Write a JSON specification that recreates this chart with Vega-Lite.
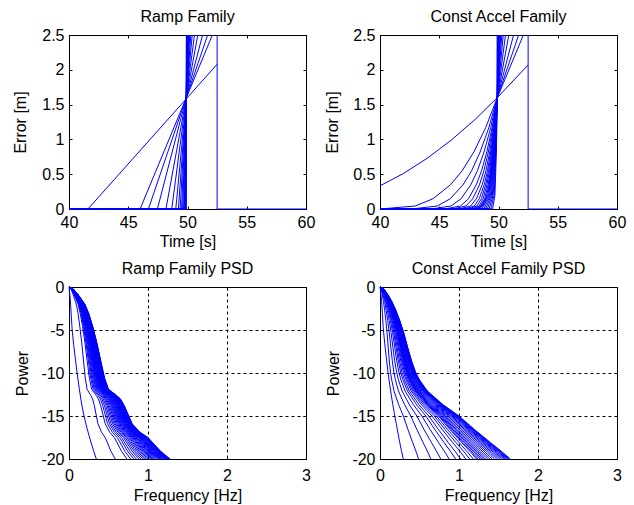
{
"$schema": "https://vega.github.io/schema/vega-lite/v6.json",
"background": "white",
"padding": {"left": 11, "top": 8, "right": 5, "bottom": 0},
"bounds": "flush",
"columns": 2,
"spacing": {"row": 78, "column": 74},
"config": {
  "font": "Liberation Sans",
  "view": {"stroke": "#000", "strokeWidth": 1, "fill": "white"},
  "axis": {"domainColor": "#000", "domainWidth": 1, "tickColor": "#000", "tickSize": -3, "tickWidth": 1, "labelFont": "Liberation Sans", "labelFontSize": 16, "labelColor": "#000", "labelPadding": 8, "labelFlush": false, "labelOverlap": false, "titleFont": "Liberation Sans", "titleFontSize": 16, "titleFontWeight": "normal", "titleColor": "#000", "grid": false},
  "title": {"font": "Liberation Sans", "fontSize": 16, "fontWeight": "normal", "color": "#000", "anchor": "middle", "frame": "group", "offset": 2.5, "baseline": "alphabetic"},
  "line": {"color": "#0000ff", "strokeWidth": 1}
},
"datasets": {
"ramp": [
{"i":1,"x":40,"y":0},{"i":1,"x":41.6,"y":0},{"i":1,"x":52.5,"y":2.08},
{"i":2,"x":40,"y":0},{"i":2,"x":46.0,"y":0},{"i":2,"x":52.1,"y":2.5},
{"i":3,"x":40,"y":0},{"i":3,"x":46.7,"y":0},{"i":3,"x":51.7,"y":2.5},
{"i":4,"x":40,"y":0},{"i":4,"x":47.46,"y":0},{"i":4,"x":51.27,"y":2.5},
{"i":5,"x":40,"y":0},{"i":5,"x":48.18,"y":0},{"i":5,"x":50.87,"y":2.5},
{"i":6,"x":40,"y":0},{"i":6,"x":48.67,"y":0},{"i":6,"x":50.59,"y":2.5},
{"i":7,"x":40,"y":0},{"i":7,"x":49.01,"y":0},{"i":7,"x":50.4,"y":2.5},
{"i":8,"x":40,"y":0},{"i":8,"x":49.23,"y":0},{"i":8,"x":50.28,"y":2.5},
{"i":9,"x":40,"y":0},{"i":9,"x":49.38,"y":0},{"i":9,"x":50.19,"y":2.5},
{"i":10,"x":40,"y":0},{"i":10,"x":49.5,"y":0},{"i":10,"x":50.13,"y":2.5},
{"i":11,"x":40,"y":0},{"i":11,"x":49.59,"y":0},{"i":11,"x":50.07,"y":2.5},
{"i":12,"x":40,"y":0},{"i":12,"x":49.67,"y":0},{"i":12,"x":50.03,"y":2.5},
{"i":13,"x":40,"y":0},{"i":13,"x":49.73,"y":0},{"i":13,"x":49.99,"y":2.5},
{"i":14,"x":40,"y":0},{"i":14,"x":49.78,"y":0},{"i":14,"x":49.97,"y":2.5},
{"i":15,"x":40,"y":0},{"i":15,"x":49.81,"y":0},{"i":15,"x":49.95,"y":2.5},
{"i":16,"x":40,"y":0},{"i":16,"x":49.84,"y":0},{"i":16,"x":49.93,"y":2.5},
{"i":17,"x":40,"y":0},{"i":17,"x":49.86,"y":0},{"i":17,"x":49.92,"y":2.5},
{"i":18,"x":40,"y":0},{"i":18,"x":49.877,"y":0},{"i":18,"x":49.913,"y":2.5},
{"i":19,"x":40,"y":0},{"i":19,"x":49.889,"y":0},{"i":19,"x":49.906,"y":2.5},
{"i":20,"x":52.5,"y":2.5},{"i":20,"x":52.5,"y":0},{"i":20,"x":60,"y":0}
],
"accel": [
{"i":1,"x":40,"y":0.333},{"i":1,"x":42,"y":0.512},{"i":1,"x":44,"y":0.731},{"i":1,"x":46,"y":0.988},{"i":1,"x":48,"y":1.283},{"i":1,"x":49.9,"y":1.6},{"i":1,"x":52.5,"y":2.07},
{"i":2,"x":40,"y":0},{"i":2,"x":42.97,"y":0.043},{"i":2,"x":44.46,"y":0.146},{"i":2,"x":45.94,"y":0.346},{"i":2,"x":46.93,"y":0.549},{"i":2,"x":47.92,"y":0.819},{"i":2,"x":48.91,"y":1.166},{"i":2,"x":49.9,"y":1.6},{"i":2,"x":52.1,"y":2.5},
{"i":3,"x":40,"y":0},{"i":3,"x":42.66,"y":0},{"i":3,"x":44.83,"y":0.043},{"i":3,"x":45.92,"y":0.146},{"i":3,"x":47.0,"y":0.346},{"i":3,"x":47.73,"y":0.549},{"i":3,"x":48.45,"y":0.819},{"i":3,"x":49.18,"y":1.166},{"i":3,"x":49.9,"y":1.6},{"i":3,"x":51.7,"y":2.5},
{"i":4,"x":40,"y":0},{"i":4,"x":44.31,"y":0},{"i":4,"x":45.99,"y":0.043},{"i":4,"x":46.83,"y":0.146},{"i":4,"x":47.66,"y":0.346},{"i":4,"x":48.22,"y":0.549},{"i":4,"x":48.78,"y":0.819},{"i":4,"x":49.34,"y":1.166},{"i":4,"x":49.9,"y":1.6},{"i":4,"x":51.27,"y":2.5},
{"i":5,"x":40,"y":0},{"i":5,"x":45.46,"y":0},{"i":5,"x":46.79,"y":0.043},{"i":5,"x":47.46,"y":0.146},{"i":5,"x":48.12,"y":0.346},{"i":5,"x":48.57,"y":0.549},{"i":5,"x":49.01,"y":0.819},{"i":5,"x":49.46,"y":1.166},{"i":5,"x":49.9,"y":1.6},{"i":5,"x":50.87,"y":2.5},
{"i":6,"x":40,"y":0},{"i":6,"x":46.12,"y":0},{"i":6,"x":47.25,"y":0.043},{"i":6,"x":47.82,"y":0.146},{"i":6,"x":48.39,"y":0.346},{"i":6,"x":48.77,"y":0.549},{"i":6,"x":49.14,"y":0.819},{"i":6,"x":49.52,"y":1.166},{"i":6,"x":49.9,"y":1.6},{"i":6,"x":50.59,"y":2.5},
{"i":7,"x":40,"y":0},{"i":7,"x":46.69,"y":0},{"i":7,"x":47.65,"y":0.043},{"i":7,"x":48.13,"y":0.146},{"i":7,"x":48.62,"y":0.346},{"i":7,"x":48.94,"y":0.549},{"i":7,"x":49.26,"y":0.819},{"i":7,"x":49.58,"y":1.166},{"i":7,"x":49.9,"y":1.6},{"i":7,"x":50.4,"y":2.5},
{"i":8,"x":40,"y":0},{"i":8,"x":47.12,"y":0},{"i":8,"x":47.95,"y":0.043},{"i":8,"x":48.37,"y":0.146},{"i":8,"x":48.79,"y":0.346},{"i":8,"x":49.07,"y":0.549},{"i":8,"x":49.34,"y":0.819},{"i":8,"x":49.62,"y":1.166},{"i":8,"x":49.9,"y":1.6},{"i":8,"x":50.28,"y":2.5},
{"i":9,"x":40,"y":0},{"i":9,"x":47.44,"y":0},{"i":9,"x":48.18,"y":0.043},{"i":9,"x":48.55,"y":0.146},{"i":9,"x":48.92,"y":0.346},{"i":9,"x":49.16,"y":0.549},{"i":9,"x":49.41,"y":0.819},{"i":9,"x":49.65,"y":1.166},{"i":9,"x":49.9,"y":1.6},{"i":9,"x":50.19,"y":2.5},
{"i":10,"x":40,"y":0},{"i":10,"x":47.71,"y":0},{"i":10,"x":48.37,"y":0.043},{"i":10,"x":48.7,"y":0.146},{"i":10,"x":49.02,"y":0.346},{"i":10,"x":49.24,"y":0.549},{"i":10,"x":49.46,"y":0.819},{"i":10,"x":49.68,"y":1.166},{"i":10,"x":49.9,"y":1.6},{"i":10,"x":50.13,"y":2.5},
{"i":11,"x":40,"y":0},{"i":11,"x":47.95,"y":0},{"i":11,"x":48.54,"y":0.043},{"i":11,"x":48.83,"y":0.146},{"i":11,"x":49.12,"y":0.346},{"i":11,"x":49.32,"y":0.549},{"i":11,"x":49.51,"y":0.819},{"i":11,"x":49.71,"y":1.166},{"i":11,"x":49.9,"y":1.6},{"i":11,"x":50.07,"y":2.5},
{"i":12,"x":40,"y":0},{"i":12,"x":48.14,"y":0},{"i":12,"x":48.67,"y":0.043},{"i":12,"x":48.93,"y":0.146},{"i":12,"x":49.2,"y":0.346},{"i":12,"x":49.37,"y":0.549},{"i":12,"x":49.55,"y":0.819},{"i":12,"x":49.72,"y":1.166},{"i":12,"x":49.9,"y":1.6},{"i":12,"x":50.03,"y":2.5},
{"i":13,"x":40,"y":0},{"i":13,"x":48.3,"y":0},{"i":13,"x":49.1,"y":0.2},{"i":13,"x":49.58,"y":0.819},{"i":13,"x":49.9,"y":1.6},{"i":13,"x":49.99,"y":2.5},
{"i":14,"x":40,"y":0},{"i":14,"x":48.45,"y":0},{"i":14,"x":49.18,"y":0.2},{"i":14,"x":49.61,"y":0.819},{"i":14,"x":49.9,"y":1.6},{"i":14,"x":49.97,"y":2.5},
{"i":15,"x":40,"y":0},{"i":15,"x":48.6,"y":0},{"i":15,"x":49.25,"y":0.2},{"i":15,"x":49.64,"y":0.819},{"i":15,"x":49.9,"y":1.6},{"i":15,"x":49.95,"y":2.5},
{"i":16,"x":40,"y":0},{"i":16,"x":48.75,"y":0},{"i":16,"x":49.33,"y":0.2},{"i":16,"x":49.67,"y":0.819},{"i":16,"x":49.9,"y":1.6},{"i":16,"x":49.93,"y":2.5},
{"i":17,"x":40,"y":0},{"i":17,"x":48.9,"y":0},{"i":17,"x":49.4,"y":0.2},{"i":17,"x":49.7,"y":0.819},{"i":17,"x":49.9,"y":1.6},{"i":17,"x":49.92,"y":2.5},
{"i":18,"x":40,"y":0},{"i":18,"x":49.05,"y":0},{"i":18,"x":49.48,"y":0.2},{"i":18,"x":49.73,"y":0.819},{"i":18,"x":49.9,"y":1.6},{"i":18,"x":49.913,"y":2.5},
{"i":19,"x":40,"y":0},{"i":19,"x":49.2,"y":0},{"i":19,"x":49.55,"y":0.2},{"i":19,"x":49.76,"y":0.819},{"i":19,"x":49.9,"y":1.6},{"i":19,"x":49.906,"y":2.5},
{"i":20,"x":40,"y":0},{"i":20,"x":49.35,"y":0},{"i":20,"x":49.63,"y":0.2},{"i":20,"x":49.79,"y":0.819},{"i":20,"x":49.9,"y":1.6},{"i":20,"x":49.906,"y":2.5},
{"i":21,"x":40,"y":0},{"i":21,"x":49.5,"y":0},{"i":21,"x":49.7,"y":0.2},{"i":21,"x":49.82,"y":0.819},{"i":21,"x":49.9,"y":1.6},{"i":21,"x":49.906,"y":2.5},
{"i":22,"x":52.5,"y":2.5},{"i":22,"x":52.5,"y":0},{"i":22,"x":60,"y":0}
],
"rpsd": [
{"i":0,"x":0,"y":0},{"i":0,"x":0.01,"y":-0.8},{"i":0,"x":0.02,"y":-2},{"i":0,"x":0.03,"y":-3.5},{"i":0,"x":0.04,"y":-5},{"i":0,"x":0.06,"y":-6.8},{"i":0,"x":0.08,"y":-8.3},{"i":0,"x":0.1,"y":-9.8},{"i":0,"x":0.13,"y":-11.8},{"i":0,"x":0.16,"y":-13.6},{"i":0,"x":0.19,"y":-15},{"i":0,"x":0.23,"y":-16.5},{"i":0,"x":0.27,"y":-17.8},{"i":0,"x":0.31,"y":-19},{"i":0,"x":0.346,"y":-20},
{"i":1,"x":0,"y":0},{"i":1,"x":0.023,"y":-0.2},{"i":1,"x":0.046,"y":-0.7},{"i":1,"x":0.092,"y":-2},{"i":1,"x":0.115,"y":-3.1},{"i":1,"x":0.137,"y":-4.6},{"i":1,"x":0.16,"y":-6.4},{"i":1,"x":0.183,"y":-8.5},{"i":1,"x":0.206,"y":-10.6},{"i":1,"x":0.229,"y":-11.9},{"i":1,"x":0.275,"y":-12.6},{"i":1,"x":0.298,"y":-13},{"i":1,"x":0.321,"y":-13.8},{"i":1,"x":0.366,"y":-15.9},{"i":1,"x":0.412,"y":-16.9},{"i":1,"x":0.458,"y":-17.5},{"i":1,"x":0.481,"y":-18},{"i":1,"x":0.531,"y":-19.1},{"i":1,"x":0.586,"y":-20},
{"i":2,"x":0,"y":0},{"i":2,"x":0.029,"y":-0.2},{"i":2,"x":0.057,"y":-0.7},{"i":2,"x":0.115,"y":-2},{"i":2,"x":0.143,"y":-3.1},{"i":2,"x":0.172,"y":-4.6},{"i":2,"x":0.201,"y":-6.4},{"i":2,"x":0.229,"y":-8.5},{"i":2,"x":0.258,"y":-10.6},{"i":2,"x":0.287,"y":-11.9},{"i":2,"x":0.344,"y":-12.6},{"i":2,"x":0.372,"y":-13},{"i":2,"x":0.401,"y":-13.8},{"i":2,"x":0.458,"y":-15.9},{"i":2,"x":0.516,"y":-16.9},{"i":2,"x":0.573,"y":-17.5},{"i":2,"x":0.602,"y":-18},{"i":2,"x":0.665,"y":-19.1},{"i":2,"x":0.733,"y":-20},
{"i":3,"x":0,"y":0},{"i":3,"x":0.032,"y":-0.2},{"i":3,"x":0.064,"y":-0.7},{"i":3,"x":0.128,"y":-2},{"i":3,"x":0.16,"y":-3.1},{"i":3,"x":0.192,"y":-4.6},{"i":3,"x":0.224,"y":-6.4},{"i":3,"x":0.256,"y":-8.5},{"i":3,"x":0.288,"y":-10.6},{"i":3,"x":0.32,"y":-11.9},{"i":3,"x":0.384,"y":-12.6},{"i":3,"x":0.416,"y":-13},{"i":3,"x":0.448,"y":-13.8},{"i":3,"x":0.512,"y":-15.9},{"i":3,"x":0.576,"y":-16.9},{"i":3,"x":0.64,"y":-17.5},{"i":3,"x":0.672,"y":-18},{"i":3,"x":0.742,"y":-19.1},{"i":3,"x":0.819,"y":-20},
{"i":4,"x":0,"y":0},{"i":4,"x":0.035,"y":-0.2},{"i":4,"x":0.069,"y":-0.7},{"i":4,"x":0.138,"y":-2},{"i":4,"x":0.173,"y":-3.1},{"i":4,"x":0.207,"y":-4.6},{"i":4,"x":0.242,"y":-6.4},{"i":4,"x":0.276,"y":-8.5},{"i":4,"x":0.311,"y":-10.6},{"i":4,"x":0.345,"y":-11.9},{"i":4,"x":0.414,"y":-12.6},{"i":4,"x":0.449,"y":-13},{"i":4,"x":0.483,"y":-13.8},{"i":4,"x":0.552,"y":-15.9},{"i":4,"x":0.621,"y":-16.9},{"i":4,"x":0.69,"y":-17.5},{"i":4,"x":0.725,"y":-18},{"i":4,"x":0.8,"y":-19.1},{"i":4,"x":0.883,"y":-20},
{"i":5,"x":0,"y":0},{"i":5,"x":0.037,"y":-0.2},{"i":5,"x":0.073,"y":-0.7},{"i":5,"x":0.146,"y":-2},{"i":5,"x":0.183,"y":-3.1},{"i":5,"x":0.219,"y":-4.6},{"i":5,"x":0.256,"y":-6.4},{"i":5,"x":0.292,"y":-8.5},{"i":5,"x":0.329,"y":-10.6},{"i":5,"x":0.365,"y":-11.9},{"i":5,"x":0.438,"y":-12.6},{"i":5,"x":0.475,"y":-13},{"i":5,"x":0.511,"y":-13.8},{"i":5,"x":0.584,"y":-15.9},{"i":5,"x":0.657,"y":-16.9},{"i":5,"x":0.73,"y":-17.5},{"i":5,"x":0.767,"y":-18},{"i":5,"x":0.847,"y":-19.1},{"i":5,"x":0.934,"y":-20},
{"i":6,"x":0,"y":0},{"i":6,"x":0.038,"y":-0.2},{"i":6,"x":0.077,"y":-0.7},{"i":6,"x":0.153,"y":-2},{"i":6,"x":0.191,"y":-3.1},{"i":6,"x":0.23,"y":-4.6},{"i":6,"x":0.268,"y":-6.4},{"i":6,"x":0.306,"y":-8.5},{"i":6,"x":0.344,"y":-10.6},{"i":6,"x":0.383,"y":-11.9},{"i":6,"x":0.459,"y":-12.6},{"i":6,"x":0.497,"y":-13},{"i":6,"x":0.536,"y":-13.8},{"i":6,"x":0.612,"y":-15.9},{"i":6,"x":0.689,"y":-16.9},{"i":6,"x":0.765,"y":-17.5},{"i":6,"x":0.803,"y":-18},{"i":6,"x":0.887,"y":-19.1},{"i":6,"x":0.979,"y":-20},
{"i":7,"x":0,"y":0},{"i":7,"x":0.04,"y":-0.2},{"i":7,"x":0.08,"y":-0.7},{"i":7,"x":0.159,"y":-2},{"i":7,"x":0.199,"y":-3.1},{"i":7,"x":0.239,"y":-4.6},{"i":7,"x":0.278,"y":-6.4},{"i":7,"x":0.318,"y":-8.5},{"i":7,"x":0.358,"y":-10.6},{"i":7,"x":0.398,"y":-11.9},{"i":7,"x":0.477,"y":-12.6},{"i":7,"x":0.517,"y":-13},{"i":7,"x":0.557,"y":-13.8},{"i":7,"x":0.636,"y":-15.9},{"i":7,"x":0.716,"y":-16.9},{"i":7,"x":0.795,"y":-17.5},{"i":7,"x":0.835,"y":-18},{"i":7,"x":0.922,"y":-19.1},{"i":7,"x":1.018,"y":-20},
{"i":8,"x":0,"y":0},{"i":8,"x":0.041,"y":-0.2},{"i":8,"x":0.082,"y":-0.7},{"i":8,"x":0.164,"y":-2},{"i":8,"x":0.205,"y":-3.1},{"i":8,"x":0.246,"y":-4.6},{"i":8,"x":0.287,"y":-6.4},{"i":8,"x":0.328,"y":-8.5},{"i":8,"x":0.369,"y":-10.6},{"i":8,"x":0.41,"y":-11.9},{"i":8,"x":0.492,"y":-12.6},{"i":8,"x":0.533,"y":-13},{"i":8,"x":0.574,"y":-13.8},{"i":8,"x":0.656,"y":-15.9},{"i":8,"x":0.738,"y":-16.9},{"i":8,"x":0.82,"y":-17.5},{"i":8,"x":0.861,"y":-18},{"i":8,"x":0.951,"y":-19.1},{"i":8,"x":1.05,"y":-20},
{"i":9,"x":0,"y":0},{"i":9,"x":0.042,"y":-0.2},{"i":9,"x":0.085,"y":-0.7},{"i":9,"x":0.169,"y":-2},{"i":9,"x":0.211,"y":-3.1},{"i":9,"x":0.254,"y":-4.6},{"i":9,"x":0.296,"y":-6.4},{"i":9,"x":0.338,"y":-8.5},{"i":9,"x":0.38,"y":-10.6},{"i":9,"x":0.423,"y":-11.9},{"i":9,"x":0.507,"y":-12.6},{"i":9,"x":0.549,"y":-13},{"i":9,"x":0.592,"y":-13.8},{"i":9,"x":0.676,"y":-15.9},{"i":9,"x":0.761,"y":-16.9},{"i":9,"x":0.845,"y":-17.5},{"i":9,"x":0.887,"y":-18},{"i":9,"x":0.98,"y":-19.1},{"i":9,"x":1.082,"y":-20},
{"i":10,"x":0,"y":0},{"i":10,"x":0.043,"y":-0.2},{"i":10,"x":0.087,"y":-0.7},{"i":10,"x":0.173,"y":-2},{"i":10,"x":0.216,"y":-3.1},{"i":10,"x":0.26,"y":-4.6},{"i":10,"x":0.303,"y":-6.4},{"i":10,"x":0.346,"y":-8.5},{"i":10,"x":0.389,"y":-10.6},{"i":10,"x":0.433,"y":-11.9},{"i":10,"x":0.519,"y":-12.6},{"i":10,"x":0.562,"y":-13},{"i":10,"x":0.606,"y":-13.8},{"i":10,"x":0.692,"y":-15.9},{"i":10,"x":0.779,"y":-16.9},{"i":10,"x":0.865,"y":-17.5},{"i":10,"x":0.908,"y":-18},{"i":10,"x":1.003,"y":-19.1},{"i":10,"x":1.107,"y":-20},
{"i":11,"x":0,"y":0},{"i":11,"x":0.044,"y":-0.2},{"i":11,"x":0.089,"y":-0.7},{"i":11,"x":0.177,"y":-2},{"i":11,"x":0.221,"y":-3.1},{"i":11,"x":0.266,"y":-4.6},{"i":11,"x":0.31,"y":-6.4},{"i":11,"x":0.354,"y":-8.5},{"i":11,"x":0.398,"y":-10.6},{"i":11,"x":0.443,"y":-11.9},{"i":11,"x":0.531,"y":-12.6},{"i":11,"x":0.575,"y":-13},{"i":11,"x":0.62,"y":-13.8},{"i":11,"x":0.708,"y":-15.9},{"i":11,"x":0.797,"y":-16.9},{"i":11,"x":0.885,"y":-17.5},{"i":11,"x":0.929,"y":-18},{"i":11,"x":1.027,"y":-19.1},{"i":11,"x":1.133,"y":-20},
{"i":12,"x":0,"y":0},{"i":12,"x":0.045,"y":-0.2},{"i":12,"x":0.09,"y":-0.7},{"i":12,"x":0.18,"y":-2},{"i":12,"x":0.225,"y":-3.1},{"i":12,"x":0.27,"y":-4.6},{"i":12,"x":0.315,"y":-6.4},{"i":12,"x":0.36,"y":-8.5},{"i":12,"x":0.405,"y":-10.6},{"i":12,"x":0.45,"y":-11.9},{"i":12,"x":0.54,"y":-12.6},{"i":12,"x":0.585,"y":-13},{"i":12,"x":0.63,"y":-13.8},{"i":12,"x":0.72,"y":-15.9},{"i":12,"x":0.81,"y":-16.9},{"i":12,"x":0.9,"y":-17.5},{"i":12,"x":0.945,"y":-18},{"i":12,"x":1.044,"y":-19.1},{"i":12,"x":1.152,"y":-20},
{"i":13,"x":0,"y":0},{"i":13,"x":0.046,"y":-0.2},{"i":13,"x":0.092,"y":-0.7},{"i":13,"x":0.183,"y":-2},{"i":13,"x":0.229,"y":-3.1},{"i":13,"x":0.275,"y":-4.6},{"i":13,"x":0.32,"y":-6.4},{"i":13,"x":0.366,"y":-8.5},{"i":13,"x":0.412,"y":-10.6},{"i":13,"x":0.458,"y":-11.9},{"i":13,"x":0.549,"y":-12.6},{"i":13,"x":0.595,"y":-13},{"i":13,"x":0.641,"y":-13.8},{"i":13,"x":0.732,"y":-15.9},{"i":13,"x":0.824,"y":-16.9},{"i":13,"x":0.915,"y":-17.5},{"i":13,"x":0.961,"y":-18},{"i":13,"x":1.061,"y":-19.1},{"i":13,"x":1.171,"y":-20},
{"i":14,"x":0,"y":0},{"i":14,"x":0.047,"y":-0.2},{"i":14,"x":0.093,"y":-0.7},{"i":14,"x":0.186,"y":-2},{"i":14,"x":0.233,"y":-3.1},{"i":14,"x":0.279,"y":-4.6},{"i":14,"x":0.326,"y":-6.4},{"i":14,"x":0.372,"y":-8.5},{"i":14,"x":0.419,"y":-10.6},{"i":14,"x":0.465,"y":-11.9},{"i":14,"x":0.558,"y":-12.6},{"i":14,"x":0.605,"y":-13},{"i":14,"x":0.651,"y":-13.8},{"i":14,"x":0.744,"y":-15.9},{"i":14,"x":0.837,"y":-16.9},{"i":14,"x":0.93,"y":-17.5},{"i":14,"x":0.977,"y":-18},{"i":14,"x":1.079,"y":-19.1},{"i":14,"x":1.19,"y":-20},
{"i":15,"x":0,"y":0},{"i":15,"x":0.047,"y":-0.2},{"i":15,"x":0.095,"y":-0.7},{"i":15,"x":0.189,"y":-2},{"i":15,"x":0.236,"y":-3.1},{"i":15,"x":0.284,"y":-4.6},{"i":15,"x":0.331,"y":-6.4},{"i":15,"x":0.378,"y":-8.5},{"i":15,"x":0.425,"y":-10.6},{"i":15,"x":0.473,"y":-11.9},{"i":15,"x":0.567,"y":-12.6},{"i":15,"x":0.614,"y":-13},{"i":15,"x":0.662,"y":-13.8},{"i":15,"x":0.756,"y":-15.9},{"i":15,"x":0.851,"y":-16.9},{"i":15,"x":0.945,"y":-17.5},{"i":15,"x":0.992,"y":-18},{"i":15,"x":1.096,"y":-19.1},{"i":15,"x":1.21,"y":-20},
{"i":16,"x":0,"y":0},{"i":16,"x":0.048,"y":-0.2},{"i":16,"x":0.096,"y":-0.7},{"i":16,"x":0.192,"y":-2},{"i":16,"x":0.24,"y":-3.1},{"i":16,"x":0.287,"y":-4.6},{"i":16,"x":0.335,"y":-6.4},{"i":16,"x":0.383,"y":-8.5},{"i":16,"x":0.431,"y":-10.6},{"i":16,"x":0.479,"y":-11.9},{"i":16,"x":0.575,"y":-12.6},{"i":16,"x":0.623,"y":-13},{"i":16,"x":0.671,"y":-13.8},{"i":16,"x":0.766,"y":-15.9},{"i":16,"x":0.862,"y":-16.9},{"i":16,"x":0.958,"y":-17.5},{"i":16,"x":1.006,"y":-18},{"i":16,"x":1.111,"y":-19.1},{"i":16,"x":1.226,"y":-20},
{"i":17,"x":0,"y":0},{"i":17,"x":0.049,"y":-0.2},{"i":17,"x":0.097,"y":-0.7},{"i":17,"x":0.194,"y":-2},{"i":17,"x":0.243,"y":-3.1},{"i":17,"x":0.291,"y":-4.6},{"i":17,"x":0.34,"y":-6.4},{"i":17,"x":0.388,"y":-8.5},{"i":17,"x":0.437,"y":-10.6},{"i":17,"x":0.485,"y":-11.9},{"i":17,"x":0.582,"y":-12.6},{"i":17,"x":0.631,"y":-13},{"i":17,"x":0.679,"y":-13.8},{"i":17,"x":0.776,"y":-15.9},{"i":17,"x":0.873,"y":-16.9},{"i":17,"x":0.97,"y":-17.5},{"i":17,"x":1.019,"y":-18},{"i":17,"x":1.125,"y":-19.1},{"i":17,"x":1.242,"y":-20},
{"i":18,"x":0,"y":0},{"i":18,"x":0.049,"y":-0.2},{"i":18,"x":0.098,"y":-0.7},{"i":18,"x":0.196,"y":-2},{"i":18,"x":0.245,"y":-3.1},{"i":18,"x":0.294,"y":-4.6},{"i":18,"x":0.343,"y":-6.4},{"i":18,"x":0.392,"y":-8.5},{"i":18,"x":0.441,"y":-10.6},{"i":18,"x":0.49,"y":-11.9},{"i":18,"x":0.588,"y":-12.6},{"i":18,"x":0.637,"y":-13},{"i":18,"x":0.686,"y":-13.8},{"i":18,"x":0.784,"y":-15.9},{"i":18,"x":0.882,"y":-16.9},{"i":18,"x":0.98,"y":-17.5},{"i":18,"x":1.029,"y":-18},{"i":18,"x":1.137,"y":-19.1},{"i":18,"x":1.254,"y":-20},
{"i":19,"x":0,"y":0},{"i":19,"x":0.05,"y":-0.2},{"i":19,"x":0.099,"y":-0.7},{"i":19,"x":0.198,"y":-2},{"i":19,"x":0.248,"y":-3.1},{"i":19,"x":0.297,"y":-4.6},{"i":19,"x":0.347,"y":-6.4},{"i":19,"x":0.396,"y":-8.5},{"i":19,"x":0.446,"y":-10.6},{"i":19,"x":0.495,"y":-11.9},{"i":19,"x":0.594,"y":-12.6},{"i":19,"x":0.644,"y":-13},{"i":19,"x":0.693,"y":-13.8},{"i":19,"x":0.792,"y":-15.9},{"i":19,"x":0.891,"y":-16.9},{"i":19,"x":0.99,"y":-17.5},{"i":19,"x":1.04,"y":-18},{"i":19,"x":1.148,"y":-19.1},{"i":19,"x":1.267,"y":-20},
{"i":20,"x":0,"y":0},{"i":20,"x":0.05,"y":-0.2},{"i":20,"x":0.1,"y":-0.7},{"i":20,"x":0.2,"y":-2},{"i":20,"x":0.25,"y":-3.1},{"i":20,"x":0.3,"y":-4.6},{"i":20,"x":0.35,"y":-6.4},{"i":20,"x":0.4,"y":-8.5},{"i":20,"x":0.45,"y":-10.6},{"i":20,"x":0.5,"y":-11.9},{"i":20,"x":0.6,"y":-12.6},{"i":20,"x":0.65,"y":-13},{"i":20,"x":0.7,"y":-13.8},{"i":20,"x":0.8,"y":-15.9},{"i":20,"x":0.9,"y":-16.9},{"i":20,"x":1,"y":-17.5},{"i":20,"x":1.05,"y":-18},{"i":20,"x":1.16,"y":-19.1},{"i":20,"x":1.28,"y":-20},
{"i":21,"x":0,"y":0},{"i":21,"x":0.031,"y":-0.2},{"i":21,"x":0.061,"y":-0.7},{"i":21,"x":0.122,"y":-2},{"i":21,"x":0.153,"y":-3.1},{"i":21,"x":0.183,"y":-4.6},{"i":21,"x":0.214,"y":-6.4},{"i":21,"x":0.244,"y":-8.5},{"i":21,"x":0.275,"y":-10.6},{"i":21,"x":0.305,"y":-11.9},{"i":21,"x":0.366,"y":-12.6},{"i":21,"x":0.397,"y":-13},{"i":21,"x":0.427,"y":-13.8},{"i":21,"x":0.488,"y":-15.9},{"i":21,"x":0.549,"y":-16.9},{"i":21,"x":0.61,"y":-17.5},{"i":21,"x":0.641,"y":-18},{"i":21,"x":0.708,"y":-19.1},{"i":21,"x":0.781,"y":-20},
{"i":22,"x":0,"y":0},{"i":22,"x":0.033,"y":-0.2},{"i":22,"x":0.067,"y":-0.7},{"i":22,"x":0.133,"y":-2},{"i":22,"x":0.166,"y":-3.1},{"i":22,"x":0.2,"y":-4.6},{"i":22,"x":0.233,"y":-6.4},{"i":22,"x":0.266,"y":-8.5},{"i":22,"x":0.299,"y":-10.6},{"i":22,"x":0.333,"y":-11.9},{"i":22,"x":0.399,"y":-12.6},{"i":22,"x":0.432,"y":-13},{"i":22,"x":0.466,"y":-13.8},{"i":22,"x":0.532,"y":-15.9},{"i":22,"x":0.599,"y":-16.9},{"i":22,"x":0.665,"y":-17.5},{"i":22,"x":0.698,"y":-18},{"i":22,"x":0.771,"y":-19.1},{"i":22,"x":0.851,"y":-20},
{"i":23,"x":0,"y":0},{"i":23,"x":0.036,"y":-0.2},{"i":23,"x":0.071,"y":-0.7},{"i":23,"x":0.142,"y":-2},{"i":23,"x":0.178,"y":-3.1},{"i":23,"x":0.213,"y":-4.6},{"i":23,"x":0.249,"y":-6.4},{"i":23,"x":0.284,"y":-8.5},{"i":23,"x":0.32,"y":-10.6},{"i":23,"x":0.355,"y":-11.9},{"i":23,"x":0.426,"y":-12.6},{"i":23,"x":0.462,"y":-13},{"i":23,"x":0.497,"y":-13.8},{"i":23,"x":0.568,"y":-15.9},{"i":23,"x":0.639,"y":-16.9},{"i":23,"x":0.71,"y":-17.5},{"i":23,"x":0.746,"y":-18},{"i":23,"x":0.824,"y":-19.1},{"i":23,"x":0.909,"y":-20},
{"i":24,"x":0,"y":0},{"i":24,"x":0.037,"y":-0.2},{"i":24,"x":0.075,"y":-0.7},{"i":24,"x":0.15,"y":-2},{"i":24,"x":0.187,"y":-3.1},{"i":24,"x":0.224,"y":-4.6},{"i":24,"x":0.262,"y":-6.4},{"i":24,"x":0.299,"y":-8.5},{"i":24,"x":0.337,"y":-10.6},{"i":24,"x":0.374,"y":-11.9},{"i":24,"x":0.449,"y":-12.6},{"i":24,"x":0.486,"y":-13},{"i":24,"x":0.524,"y":-13.8},{"i":24,"x":0.598,"y":-15.9},{"i":24,"x":0.673,"y":-16.9},{"i":24,"x":0.748,"y":-17.5},{"i":24,"x":0.785,"y":-18},{"i":24,"x":0.868,"y":-19.1},{"i":24,"x":0.957,"y":-20},
{"i":25,"x":0,"y":0},{"i":25,"x":0.039,"y":-0.2},{"i":25,"x":0.078,"y":-0.7},{"i":25,"x":0.156,"y":-2},{"i":25,"x":0.195,"y":-3.1},{"i":25,"x":0.234,"y":-4.6},{"i":25,"x":0.273,"y":-6.4},{"i":25,"x":0.312,"y":-8.5},{"i":25,"x":0.351,"y":-10.6},{"i":25,"x":0.39,"y":-11.9},{"i":25,"x":0.468,"y":-12.6},{"i":25,"x":0.507,"y":-13},{"i":25,"x":0.546,"y":-13.8},{"i":25,"x":0.624,"y":-15.9},{"i":25,"x":0.702,"y":-16.9},{"i":25,"x":0.78,"y":-17.5},{"i":25,"x":0.819,"y":-18},{"i":25,"x":0.905,"y":-19.1},{"i":25,"x":0.998,"y":-20},
{"i":26,"x":0,"y":0},{"i":26,"x":0.04,"y":-0.2},{"i":26,"x":0.081,"y":-0.7},{"i":26,"x":0.162,"y":-2},{"i":26,"x":0.202,"y":-3.1},{"i":26,"x":0.242,"y":-4.6},{"i":26,"x":0.283,"y":-6.4},{"i":26,"x":0.323,"y":-8.5},{"i":26,"x":0.364,"y":-10.6},{"i":26,"x":0.404,"y":-11.9},{"i":26,"x":0.485,"y":-12.6},{"i":26,"x":0.525,"y":-13},{"i":26,"x":0.566,"y":-13.8},{"i":26,"x":0.646,"y":-15.9},{"i":26,"x":0.727,"y":-16.9},{"i":26,"x":0.808,"y":-17.5},{"i":26,"x":0.848,"y":-18},{"i":26,"x":0.937,"y":-19.1},{"i":26,"x":1.034,"y":-20},
{"i":27,"x":0,"y":0},{"i":27,"x":0.042,"y":-0.2},{"i":27,"x":0.083,"y":-0.7},{"i":27,"x":0.166,"y":-2},{"i":27,"x":0.208,"y":-3.1},{"i":27,"x":0.25,"y":-4.6},{"i":27,"x":0.291,"y":-6.4},{"i":27,"x":0.333,"y":-8.5},{"i":27,"x":0.374,"y":-10.6},{"i":27,"x":0.416,"y":-11.9},{"i":27,"x":0.499,"y":-12.6},{"i":27,"x":0.541,"y":-13},{"i":27,"x":0.582,"y":-13.8},{"i":27,"x":0.666,"y":-15.9},{"i":27,"x":0.749,"y":-16.9},{"i":27,"x":0.832,"y":-17.5},{"i":27,"x":0.874,"y":-18},{"i":27,"x":0.965,"y":-19.1},{"i":27,"x":1.065,"y":-20},
{"i":28,"x":0,"y":0},{"i":28,"x":0.043,"y":-0.2},{"i":28,"x":0.086,"y":-0.7},{"i":28,"x":0.171,"y":-2},{"i":28,"x":0.214,"y":-3.1},{"i":28,"x":0.257,"y":-4.6},{"i":28,"x":0.299,"y":-6.4},{"i":28,"x":0.342,"y":-8.5},{"i":28,"x":0.385,"y":-10.6},{"i":28,"x":0.428,"y":-11.9},{"i":28,"x":0.513,"y":-12.6},{"i":28,"x":0.556,"y":-13},{"i":28,"x":0.599,"y":-13.8},{"i":28,"x":0.684,"y":-15.9},{"i":28,"x":0.77,"y":-16.9},{"i":28,"x":0.855,"y":-17.5},{"i":28,"x":0.898,"y":-18},{"i":28,"x":0.992,"y":-19.1},{"i":28,"x":1.094,"y":-20},
{"i":29,"x":0,"y":0},{"i":29,"x":0.044,"y":-0.2},{"i":29,"x":0.088,"y":-0.7},{"i":29,"x":0.175,"y":-2},{"i":29,"x":0.219,"y":-3.1},{"i":29,"x":0.263,"y":-4.6},{"i":29,"x":0.306,"y":-6.4},{"i":29,"x":0.35,"y":-8.5},{"i":29,"x":0.394,"y":-10.6},{"i":29,"x":0.438,"y":-11.9},{"i":29,"x":0.525,"y":-12.6},{"i":29,"x":0.569,"y":-13},{"i":29,"x":0.613,"y":-13.8},{"i":29,"x":0.7,"y":-15.9},{"i":29,"x":0.788,"y":-16.9},{"i":29,"x":0.875,"y":-17.5},{"i":29,"x":0.919,"y":-18},{"i":29,"x":1.015,"y":-19.1},{"i":29,"x":1.12,"y":-20},
{"i":30,"x":0,"y":0},{"i":30,"x":0.045,"y":-0.2},{"i":30,"x":0.089,"y":-0.7},{"i":30,"x":0.179,"y":-2},{"i":30,"x":0.223,"y":-3.1},{"i":30,"x":0.268,"y":-4.6},{"i":30,"x":0.313,"y":-6.4},{"i":30,"x":0.357,"y":-8.5},{"i":30,"x":0.402,"y":-10.6},{"i":30,"x":0.447,"y":-11.9},{"i":30,"x":0.536,"y":-12.6},{"i":30,"x":0.58,"y":-13},{"i":30,"x":0.625,"y":-13.8},{"i":30,"x":0.714,"y":-15.9},{"i":30,"x":0.804,"y":-16.9},{"i":30,"x":0.893,"y":-17.5},{"i":30,"x":0.938,"y":-18},{"i":30,"x":1.036,"y":-19.1},{"i":30,"x":1.143,"y":-20},
{"i":31,"x":0,"y":0},{"i":31,"x":0.045,"y":-0.2},{"i":31,"x":0.091,"y":-0.7},{"i":31,"x":0.182,"y":-2},{"i":31,"x":0.227,"y":-3.1},{"i":31,"x":0.272,"y":-4.6},{"i":31,"x":0.318,"y":-6.4},{"i":31,"x":0.363,"y":-8.5},{"i":31,"x":0.409,"y":-10.6},{"i":31,"x":0.454,"y":-11.9},{"i":31,"x":0.545,"y":-12.6},{"i":31,"x":0.59,"y":-13},{"i":31,"x":0.636,"y":-13.8},{"i":31,"x":0.726,"y":-15.9},{"i":31,"x":0.817,"y":-16.9},{"i":31,"x":0.908,"y":-17.5},{"i":31,"x":0.953,"y":-18},{"i":31,"x":1.053,"y":-19.1},{"i":31,"x":1.162,"y":-20},
{"i":32,"x":0,"y":0},{"i":32,"x":0.046,"y":-0.2},{"i":32,"x":0.092,"y":-0.7},{"i":32,"x":0.184,"y":-2},{"i":32,"x":0.231,"y":-3.1},{"i":32,"x":0.277,"y":-4.6},{"i":32,"x":0.323,"y":-6.4},{"i":32,"x":0.369,"y":-8.5},{"i":32,"x":0.415,"y":-10.6},{"i":32,"x":0.461,"y":-11.9},{"i":32,"x":0.553,"y":-12.6},{"i":32,"x":0.599,"y":-13},{"i":32,"x":0.645,"y":-13.8},{"i":32,"x":0.738,"y":-15.9},{"i":32,"x":0.83,"y":-16.9},{"i":32,"x":0.922,"y":-17.5},{"i":32,"x":0.968,"y":-18},{"i":32,"x":1.07,"y":-19.1},{"i":32,"x":1.18,"y":-20},
{"i":33,"x":0,"y":0},{"i":33,"x":0.047,"y":-0.2},{"i":33,"x":0.094,"y":-0.7},{"i":33,"x":0.187,"y":-2},{"i":33,"x":0.234,"y":-3.1},{"i":33,"x":0.281,"y":-4.6},{"i":33,"x":0.328,"y":-6.4},{"i":33,"x":0.375,"y":-8.5},{"i":33,"x":0.422,"y":-10.6},{"i":33,"x":0.469,"y":-11.9},{"i":33,"x":0.562,"y":-12.6},{"i":33,"x":0.609,"y":-13},{"i":33,"x":0.656,"y":-13.8},{"i":33,"x":0.75,"y":-15.9},{"i":33,"x":0.843,"y":-16.9},{"i":33,"x":0.937,"y":-17.5},{"i":33,"x":0.984,"y":-18},{"i":33,"x":1.087,"y":-19.1},{"i":33,"x":1.199,"y":-20},
{"i":34,"x":0,"y":0},{"i":34,"x":0.048,"y":-0.2},{"i":34,"x":0.095,"y":-0.7},{"i":34,"x":0.19,"y":-2},{"i":34,"x":0.238,"y":-3.1},{"i":34,"x":0.285,"y":-4.6},{"i":34,"x":0.333,"y":-6.4},{"i":34,"x":0.38,"y":-8.5},{"i":34,"x":0.428,"y":-10.6},{"i":34,"x":0.476,"y":-11.9},{"i":34,"x":0.571,"y":-12.6},{"i":34,"x":0.618,"y":-13},{"i":34,"x":0.666,"y":-13.8},{"i":34,"x":0.761,"y":-15.9},{"i":34,"x":0.856,"y":-16.9},{"i":34,"x":0.951,"y":-17.5},{"i":34,"x":0.999,"y":-18},{"i":34,"x":1.103,"y":-19.1},{"i":34,"x":1.217,"y":-20},
{"i":35,"x":0,"y":0},{"i":35,"x":0.048,"y":-0.2},{"i":35,"x":0.096,"y":-0.7},{"i":35,"x":0.193,"y":-2},{"i":35,"x":0.241,"y":-3.1},{"i":35,"x":0.289,"y":-4.6},{"i":35,"x":0.337,"y":-6.4},{"i":35,"x":0.386,"y":-8.5},{"i":35,"x":0.434,"y":-10.6},{"i":35,"x":0.482,"y":-11.9},{"i":35,"x":0.578,"y":-12.6},{"i":35,"x":0.627,"y":-13},{"i":35,"x":0.675,"y":-13.8},{"i":35,"x":0.771,"y":-15.9},{"i":35,"x":0.868,"y":-16.9},{"i":35,"x":0.964,"y":-17.5},{"i":35,"x":1.012,"y":-18},{"i":35,"x":1.118,"y":-19.1},{"i":35,"x":1.234,"y":-20},
{"i":36,"x":0,"y":0},{"i":36,"x":0.049,"y":-0.2},{"i":36,"x":0.098,"y":-0.7},{"i":36,"x":0.195,"y":-2},{"i":36,"x":0.244,"y":-3.1},{"i":36,"x":0.293,"y":-4.6},{"i":36,"x":0.341,"y":-6.4},{"i":36,"x":0.39,"y":-8.5},{"i":36,"x":0.439,"y":-10.6},{"i":36,"x":0.488,"y":-11.9},{"i":36,"x":0.585,"y":-12.6},{"i":36,"x":0.634,"y":-13},{"i":36,"x":0.683,"y":-13.8},{"i":36,"x":0.78,"y":-15.9},{"i":36,"x":0.878,"y":-16.9},{"i":36,"x":0.975,"y":-17.5},{"i":36,"x":1.024,"y":-18},{"i":36,"x":1.131,"y":-19.1},{"i":36,"x":1.248,"y":-20},
{"i":37,"x":0,"y":0},{"i":37,"x":0.049,"y":-0.2},{"i":37,"x":0.099,"y":-0.7},{"i":37,"x":0.197,"y":-2},{"i":37,"x":0.246,"y":-3.1},{"i":37,"x":0.296,"y":-4.6},{"i":37,"x":0.345,"y":-6.4},{"i":37,"x":0.394,"y":-8.5},{"i":37,"x":0.443,"y":-10.6},{"i":37,"x":0.493,"y":-11.9},{"i":37,"x":0.591,"y":-12.6},{"i":37,"x":0.64,"y":-13},{"i":37,"x":0.69,"y":-13.8},{"i":37,"x":0.788,"y":-15.9},{"i":37,"x":0.887,"y":-16.9},{"i":37,"x":0.985,"y":-17.5},{"i":37,"x":1.034,"y":-18},{"i":37,"x":1.143,"y":-19.1},{"i":37,"x":1.261,"y":-20},
{"i":38,"x":0,"y":0},{"i":38,"x":0.05,"y":-0.2},{"i":38,"x":0.1,"y":-0.7},{"i":38,"x":0.199,"y":-2},{"i":38,"x":0.249,"y":-3.1},{"i":38,"x":0.299,"y":-4.6},{"i":38,"x":0.348,"y":-6.4},{"i":38,"x":0.398,"y":-8.5},{"i":38,"x":0.448,"y":-10.6},{"i":38,"x":0.498,"y":-11.9},{"i":38,"x":0.597,"y":-12.6},{"i":38,"x":0.647,"y":-13},{"i":38,"x":0.697,"y":-13.8},{"i":38,"x":0.796,"y":-15.9},{"i":38,"x":0.896,"y":-16.9},{"i":38,"x":0.995,"y":-17.5},{"i":38,"x":1.045,"y":-18},{"i":38,"x":1.154,"y":-19.1},{"i":38,"x":1.274,"y":-20}
],
"apsd": [
{"i":0,"x":0,"y":0},{"i":0,"x":0.01,"y":-0.6},{"i":0,"x":0.02,"y":-1.6},{"i":0,"x":0.03,"y":-3},{"i":0,"x":0.04,"y":-4.7},{"i":0,"x":0.06,"y":-6.6},{"i":0,"x":0.08,"y":-8.2},{"i":0,"x":0.1,"y":-9.8},{"i":0,"x":0.122,"y":-11.3},{"i":0,"x":0.15,"y":-13},{"i":0,"x":0.18,"y":-14.6},{"i":0,"x":0.206,"y":-15.9},{"i":0,"x":0.24,"y":-17.6},{"i":0,"x":0.27,"y":-19},{"i":0,"x":0.295,"y":-20},
{"i":1,"x":0,"y":0},{"i":1,"x":0.015,"y":-0.25},{"i":1,"x":0.03,"y":-0.9},{"i":1,"x":0.044,"y":-1.7},{"i":1,"x":0.059,"y":-2.7},{"i":1,"x":0.074,"y":-3.9},{"i":1,"x":0.089,"y":-5.3},{"i":1,"x":0.104,"y":-7},{"i":1,"x":0.118,"y":-8.6},{"i":1,"x":0.133,"y":-9.9},{"i":1,"x":0.148,"y":-10.8},{"i":1,"x":0.178,"y":-12.1},{"i":1,"x":0.207,"y":-12.9},{"i":1,"x":0.237,"y":-13.7},{"i":1,"x":0.296,"y":-15},{"i":1,"x":0.355,"y":-16.6},{"i":1,"x":0.414,"y":-18.1},{"i":1,"x":0.459,"y":-19.2},{"i":1,"x":0.488,"y":-20},
{"i":2,"x":0,"y":0},{"i":2,"x":0.02,"y":-0.25},{"i":2,"x":0.039,"y":-0.9},{"i":2,"x":0.059,"y":-1.7},{"i":2,"x":0.078,"y":-2.7},{"i":2,"x":0.098,"y":-3.9},{"i":2,"x":0.117,"y":-5.3},{"i":2,"x":0.137,"y":-7},{"i":2,"x":0.156,"y":-8.6},{"i":2,"x":0.176,"y":-9.9},{"i":2,"x":0.195,"y":-10.8},{"i":2,"x":0.234,"y":-12.1},{"i":2,"x":0.273,"y":-12.9},{"i":2,"x":0.312,"y":-13.7},{"i":2,"x":0.39,"y":-15},{"i":2,"x":0.468,"y":-16.6},{"i":2,"x":0.546,"y":-18.1},{"i":2,"x":0.605,"y":-19.2},{"i":2,"x":0.644,"y":-20},
{"i":3,"x":0,"y":0},{"i":3,"x":0.023,"y":-0.25},{"i":3,"x":0.047,"y":-0.9},{"i":3,"x":0.07,"y":-1.7},{"i":3,"x":0.093,"y":-2.7},{"i":3,"x":0.117,"y":-3.9},{"i":3,"x":0.14,"y":-5.3},{"i":3,"x":0.163,"y":-7},{"i":3,"x":0.186,"y":-8.6},{"i":3,"x":0.21,"y":-9.9},{"i":3,"x":0.233,"y":-10.8},{"i":3,"x":0.28,"y":-12.1},{"i":3,"x":0.326,"y":-12.9},{"i":3,"x":0.373,"y":-13.7},{"i":3,"x":0.466,"y":-15},{"i":3,"x":0.559,"y":-16.6},{"i":3,"x":0.652,"y":-18.1},{"i":3,"x":0.722,"y":-19.2},{"i":3,"x":0.769,"y":-20},
{"i":4,"x":0,"y":0},{"i":4,"x":0.027,"y":-0.25},{"i":4,"x":0.053,"y":-0.9},{"i":4,"x":0.08,"y":-1.7},{"i":4,"x":0.106,"y":-2.7},{"i":4,"x":0.133,"y":-3.9},{"i":4,"x":0.159,"y":-5.3},{"i":4,"x":0.186,"y":-7},{"i":4,"x":0.212,"y":-8.6},{"i":4,"x":0.239,"y":-9.9},{"i":4,"x":0.265,"y":-10.8},{"i":4,"x":0.318,"y":-12.1},{"i":4,"x":0.371,"y":-12.9},{"i":4,"x":0.424,"y":-13.7},{"i":4,"x":0.53,"y":-15},{"i":4,"x":0.636,"y":-16.6},{"i":4,"x":0.742,"y":-18.1},{"i":4,"x":0.822,"y":-19.2},{"i":4,"x":0.875,"y":-20},
{"i":5,"x":0,"y":0},{"i":5,"x":0.029,"y":-0.25},{"i":5,"x":0.058,"y":-0.9},{"i":5,"x":0.087,"y":-1.7},{"i":5,"x":0.116,"y":-2.7},{"i":5,"x":0.145,"y":-3.9},{"i":5,"x":0.174,"y":-5.3},{"i":5,"x":0.203,"y":-7},{"i":5,"x":0.232,"y":-8.6},{"i":5,"x":0.261,"y":-9.9},{"i":5,"x":0.29,"y":-10.8},{"i":5,"x":0.348,"y":-12.1},{"i":5,"x":0.406,"y":-12.9},{"i":5,"x":0.464,"y":-13.7},{"i":5,"x":0.58,"y":-15},{"i":5,"x":0.696,"y":-16.6},{"i":5,"x":0.812,"y":-18.1},{"i":5,"x":0.899,"y":-19.2},{"i":5,"x":0.957,"y":-20},
{"i":6,"x":0,"y":0},{"i":6,"x":0.031,"y":-0.25},{"i":6,"x":0.062,"y":-0.9},{"i":6,"x":0.093,"y":-1.7},{"i":6,"x":0.124,"y":-2.7},{"i":6,"x":0.155,"y":-3.9},{"i":6,"x":0.185,"y":-5.3},{"i":6,"x":0.216,"y":-7},{"i":6,"x":0.247,"y":-8.6},{"i":6,"x":0.278,"y":-9.9},{"i":6,"x":0.309,"y":-10.8},{"i":6,"x":0.371,"y":-12.1},{"i":6,"x":0.433,"y":-12.9},{"i":6,"x":0.494,"y":-13.7},{"i":6,"x":0.618,"y":-15},{"i":6,"x":0.742,"y":-16.6},{"i":6,"x":0.865,"y":-18.1},{"i":6,"x":0.958,"y":-19.2},{"i":6,"x":1.02,"y":-20},
{"i":7,"x":0,"y":0},{"i":7,"x":0.033,"y":-0.25},{"i":7,"x":0.066,"y":-0.9},{"i":7,"x":0.099,"y":-1.7},{"i":7,"x":0.132,"y":-2.7},{"i":7,"x":0.165,"y":-3.9},{"i":7,"x":0.197,"y":-5.3},{"i":7,"x":0.23,"y":-7},{"i":7,"x":0.263,"y":-8.6},{"i":7,"x":0.296,"y":-9.9},{"i":7,"x":0.329,"y":-10.8},{"i":7,"x":0.395,"y":-12.1},{"i":7,"x":0.461,"y":-12.9},{"i":7,"x":0.526,"y":-13.7},{"i":7,"x":0.658,"y":-15},{"i":7,"x":0.79,"y":-16.6},{"i":7,"x":0.921,"y":-18.1},{"i":7,"x":1.02,"y":-19.2},{"i":7,"x":1.086,"y":-20},
{"i":8,"x":0,"y":0},{"i":8,"x":0.034,"y":-0.25},{"i":8,"x":0.069,"y":-0.9},{"i":8,"x":0.103,"y":-1.7},{"i":8,"x":0.138,"y":-2.7},{"i":8,"x":0.172,"y":-3.9},{"i":8,"x":0.206,"y":-5.3},{"i":8,"x":0.241,"y":-7},{"i":8,"x":0.275,"y":-8.6},{"i":8,"x":0.31,"y":-9.9},{"i":8,"x":0.344,"y":-10.8},{"i":8,"x":0.413,"y":-12.1},{"i":8,"x":0.482,"y":-12.9},{"i":8,"x":0.55,"y":-13.7},{"i":8,"x":0.688,"y":-15},{"i":8,"x":0.826,"y":-16.6},{"i":8,"x":0.963,"y":-18.1},{"i":8,"x":1.066,"y":-19.2},{"i":8,"x":1.135,"y":-20},
{"i":9,"x":0,"y":0},{"i":9,"x":0.036,"y":-0.25},{"i":9,"x":0.072,"y":-0.9},{"i":9,"x":0.107,"y":-1.7},{"i":9,"x":0.143,"y":-2.7},{"i":9,"x":0.179,"y":-3.9},{"i":9,"x":0.215,"y":-5.3},{"i":9,"x":0.25,"y":-7},{"i":9,"x":0.286,"y":-8.6},{"i":9,"x":0.322,"y":-9.9},{"i":9,"x":0.358,"y":-10.8},{"i":9,"x":0.429,"y":-12.1},{"i":9,"x":0.501,"y":-12.9},{"i":9,"x":0.572,"y":-13.7},{"i":9,"x":0.715,"y":-15},{"i":9,"x":0.858,"y":-16.6},{"i":9,"x":1.001,"y":-18.1},{"i":9,"x":1.108,"y":-19.2},{"i":9,"x":1.18,"y":-20},
{"i":10,"x":0,"y":0},{"i":10,"x":0.037,"y":-0.25},{"i":10,"x":0.074,"y":-0.9},{"i":10,"x":0.111,"y":-1.7},{"i":10,"x":0.148,"y":-2.7},{"i":10,"x":0.185,"y":-3.9},{"i":10,"x":0.222,"y":-5.3},{"i":10,"x":0.259,"y":-7},{"i":10,"x":0.296,"y":-8.6},{"i":10,"x":0.333,"y":-9.9},{"i":10,"x":0.37,"y":-10.8},{"i":10,"x":0.444,"y":-12.1},{"i":10,"x":0.518,"y":-12.9},{"i":10,"x":0.592,"y":-13.7},{"i":10,"x":0.74,"y":-15},{"i":10,"x":0.888,"y":-16.6},{"i":10,"x":1.036,"y":-18.1},{"i":10,"x":1.147,"y":-19.2},{"i":10,"x":1.221,"y":-20},
{"i":11,"x":0,"y":0},{"i":11,"x":0.038,"y":-0.25},{"i":11,"x":0.077,"y":-0.9},{"i":11,"x":0.115,"y":-1.7},{"i":11,"x":0.153,"y":-2.7},{"i":11,"x":0.192,"y":-3.9},{"i":11,"x":0.23,"y":-5.3},{"i":11,"x":0.268,"y":-7},{"i":11,"x":0.307,"y":-8.6},{"i":11,"x":0.345,"y":-9.9},{"i":11,"x":0.384,"y":-10.8},{"i":11,"x":0.46,"y":-12.1},{"i":11,"x":0.537,"y":-12.9},{"i":11,"x":0.614,"y":-13.7},{"i":11,"x":0.767,"y":-15},{"i":11,"x":0.92,"y":-16.6},{"i":11,"x":1.074,"y":-18.1},{"i":11,"x":1.189,"y":-19.2},{"i":11,"x":1.266,"y":-20},
{"i":12,"x":0,"y":0},{"i":12,"x":0.04,"y":-0.25},{"i":12,"x":0.079,"y":-0.9},{"i":12,"x":0.119,"y":-1.7},{"i":12,"x":0.159,"y":-2.7},{"i":12,"x":0.199,"y":-3.9},{"i":12,"x":0.238,"y":-5.3},{"i":12,"x":0.278,"y":-7},{"i":12,"x":0.318,"y":-8.6},{"i":12,"x":0.357,"y":-9.9},{"i":12,"x":0.397,"y":-10.8},{"i":12,"x":0.476,"y":-12.1},{"i":12,"x":0.556,"y":-12.9},{"i":12,"x":0.635,"y":-13.7},{"i":12,"x":0.794,"y":-15},{"i":12,"x":0.953,"y":-16.6},{"i":12,"x":1.112,"y":-18.1},{"i":12,"x":1.231,"y":-19.2},{"i":12,"x":1.31,"y":-20},
{"i":13,"x":0,"y":0},{"i":13,"x":0.041,"y":-0.25},{"i":13,"x":0.082,"y":-0.9},{"i":13,"x":0.124,"y":-1.7},{"i":13,"x":0.165,"y":-2.7},{"i":13,"x":0.206,"y":-3.9},{"i":13,"x":0.247,"y":-5.3},{"i":13,"x":0.288,"y":-7},{"i":13,"x":0.33,"y":-8.6},{"i":13,"x":0.371,"y":-9.9},{"i":13,"x":0.412,"y":-10.8},{"i":13,"x":0.494,"y":-12.1},{"i":13,"x":0.577,"y":-12.9},{"i":13,"x":0.659,"y":-13.7},{"i":13,"x":0.824,"y":-15},{"i":13,"x":0.989,"y":-16.6},{"i":13,"x":1.154,"y":-18.1},{"i":13,"x":1.277,"y":-19.2},{"i":13,"x":1.36,"y":-20},
{"i":14,"x":0,"y":0},{"i":14,"x":0.043,"y":-0.25},{"i":14,"x":0.086,"y":-0.9},{"i":14,"x":0.129,"y":-1.7},{"i":14,"x":0.172,"y":-2.7},{"i":14,"x":0.215,"y":-3.9},{"i":14,"x":0.258,"y":-5.3},{"i":14,"x":0.301,"y":-7},{"i":14,"x":0.344,"y":-8.6},{"i":14,"x":0.387,"y":-9.9},{"i":14,"x":0.43,"y":-10.8},{"i":14,"x":0.516,"y":-12.1},{"i":14,"x":0.602,"y":-12.9},{"i":14,"x":0.688,"y":-13.7},{"i":14,"x":0.86,"y":-15},{"i":14,"x":1.032,"y":-16.6},{"i":14,"x":1.204,"y":-18.1},{"i":14,"x":1.333,"y":-19.2},{"i":14,"x":1.419,"y":-20},
{"i":15,"x":0,"y":0},{"i":15,"x":0.045,"y":-0.25},{"i":15,"x":0.09,"y":-0.9},{"i":15,"x":0.134,"y":-1.7},{"i":15,"x":0.179,"y":-2.7},{"i":15,"x":0.224,"y":-3.9},{"i":15,"x":0.269,"y":-5.3},{"i":15,"x":0.313,"y":-7},{"i":15,"x":0.358,"y":-8.6},{"i":15,"x":0.403,"y":-9.9},{"i":15,"x":0.448,"y":-10.8},{"i":15,"x":0.537,"y":-12.1},{"i":15,"x":0.627,"y":-12.9},{"i":15,"x":0.716,"y":-13.7},{"i":15,"x":0.895,"y":-15},{"i":15,"x":1.074,"y":-16.6},{"i":15,"x":1.253,"y":-18.1},{"i":15,"x":1.387,"y":-19.2},{"i":15,"x":1.477,"y":-20},
{"i":16,"x":0,"y":0},{"i":16,"x":0.046,"y":-0.25},{"i":16,"x":0.093,"y":-0.9},{"i":16,"x":0.139,"y":-1.7},{"i":16,"x":0.185,"y":-2.7},{"i":16,"x":0.231,"y":-3.9},{"i":16,"x":0.278,"y":-5.3},{"i":16,"x":0.324,"y":-7},{"i":16,"x":0.37,"y":-8.6},{"i":16,"x":0.416,"y":-9.9},{"i":16,"x":0.463,"y":-10.8},{"i":16,"x":0.555,"y":-12.1},{"i":16,"x":0.648,"y":-12.9},{"i":16,"x":0.74,"y":-13.7},{"i":16,"x":0.925,"y":-15},{"i":16,"x":1.11,"y":-16.6},{"i":16,"x":1.295,"y":-18.1},{"i":16,"x":1.434,"y":-19.2},{"i":16,"x":1.526,"y":-20},
{"i":17,"x":0,"y":0},{"i":17,"x":0.048,"y":-0.25},{"i":17,"x":0.095,"y":-0.9},{"i":17,"x":0.143,"y":-1.7},{"i":17,"x":0.19,"y":-2.7},{"i":17,"x":0.238,"y":-3.9},{"i":17,"x":0.285,"y":-5.3},{"i":17,"x":0.333,"y":-7},{"i":17,"x":0.38,"y":-8.6},{"i":17,"x":0.428,"y":-9.9},{"i":17,"x":0.475,"y":-10.8},{"i":17,"x":0.57,"y":-12.1},{"i":17,"x":0.665,"y":-12.9},{"i":17,"x":0.76,"y":-13.7},{"i":17,"x":0.95,"y":-15},{"i":17,"x":1.14,"y":-16.6},{"i":17,"x":1.33,"y":-18.1},{"i":17,"x":1.473,"y":-19.2},{"i":17,"x":1.568,"y":-20},
{"i":18,"x":0,"y":0},{"i":18,"x":0.049,"y":-0.25},{"i":18,"x":0.097,"y":-0.9},{"i":18,"x":0.146,"y":-1.7},{"i":18,"x":0.194,"y":-2.7},{"i":18,"x":0.243,"y":-3.9},{"i":18,"x":0.291,"y":-5.3},{"i":18,"x":0.34,"y":-7},{"i":18,"x":0.388,"y":-8.6},{"i":18,"x":0.437,"y":-9.9},{"i":18,"x":0.485,"y":-10.8},{"i":18,"x":0.582,"y":-12.1},{"i":18,"x":0.679,"y":-12.9},{"i":18,"x":0.776,"y":-13.7},{"i":18,"x":0.97,"y":-15},{"i":18,"x":1.164,"y":-16.6},{"i":18,"x":1.358,"y":-18.1},{"i":18,"x":1.504,"y":-19.2},{"i":18,"x":1.601,"y":-20},
{"i":19,"x":0,"y":0},{"i":19,"x":0.049,"y":-0.25},{"i":19,"x":0.099,"y":-0.9},{"i":19,"x":0.148,"y":-1.7},{"i":19,"x":0.197,"y":-2.7},{"i":19,"x":0.246,"y":-3.9},{"i":19,"x":0.296,"y":-5.3},{"i":19,"x":0.345,"y":-7},{"i":19,"x":0.394,"y":-8.6},{"i":19,"x":0.443,"y":-9.9},{"i":19,"x":0.493,"y":-10.8},{"i":19,"x":0.591,"y":-12.1},{"i":19,"x":0.69,"y":-12.9},{"i":19,"x":0.788,"y":-13.7},{"i":19,"x":0.985,"y":-15},{"i":19,"x":1.182,"y":-16.6},{"i":19,"x":1.379,"y":-18.1},{"i":19,"x":1.527,"y":-19.2},{"i":19,"x":1.625,"y":-20},
{"i":20,"x":0,"y":0},{"i":20,"x":0.05,"y":-0.25},{"i":20,"x":0.1,"y":-0.9},{"i":20,"x":0.15,"y":-1.7},{"i":20,"x":0.2,"y":-2.7},{"i":20,"x":0.25,"y":-3.9},{"i":20,"x":0.3,"y":-5.3},{"i":20,"x":0.35,"y":-7},{"i":20,"x":0.4,"y":-8.6},{"i":20,"x":0.45,"y":-9.9},{"i":20,"x":0.5,"y":-10.8},{"i":20,"x":0.6,"y":-12.1},{"i":20,"x":0.7,"y":-12.9},{"i":20,"x":0.8,"y":-13.7},{"i":20,"x":1,"y":-15},{"i":20,"x":1.2,"y":-16.6},{"i":20,"x":1.4,"y":-18.1},{"i":20,"x":1.55,"y":-19.2},{"i":20,"x":1.65,"y":-20},
{"i":21,"x":0,"y":0},{"i":21,"x":0.038,"y":-0.25},{"i":21,"x":0.075,"y":-0.9},{"i":21,"x":0.113,"y":-1.7},{"i":21,"x":0.151,"y":-2.7},{"i":21,"x":0.188,"y":-3.9},{"i":21,"x":0.226,"y":-5.3},{"i":21,"x":0.264,"y":-7},{"i":21,"x":0.301,"y":-8.6},{"i":21,"x":0.339,"y":-9.9},{"i":21,"x":0.377,"y":-10.8},{"i":21,"x":0.452,"y":-12.1},{"i":21,"x":0.527,"y":-12.9},{"i":21,"x":0.602,"y":-13.7},{"i":21,"x":0.753,"y":-15},{"i":21,"x":0.904,"y":-16.6},{"i":21,"x":1.054,"y":-18.1},{"i":21,"x":1.167,"y":-19.2},{"i":21,"x":1.242,"y":-20},
{"i":22,"x":0,"y":0},{"i":22,"x":0.039,"y":-0.25},{"i":22,"x":0.078,"y":-0.9},{"i":22,"x":0.117,"y":-1.7},{"i":22,"x":0.156,"y":-2.7},{"i":22,"x":0.195,"y":-3.9},{"i":22,"x":0.234,"y":-5.3},{"i":22,"x":0.273,"y":-7},{"i":22,"x":0.312,"y":-8.6},{"i":22,"x":0.351,"y":-9.9},{"i":22,"x":0.39,"y":-10.8},{"i":22,"x":0.468,"y":-12.1},{"i":22,"x":0.546,"y":-12.9},{"i":22,"x":0.624,"y":-13.7},{"i":22,"x":0.78,"y":-15},{"i":22,"x":0.936,"y":-16.6},{"i":22,"x":1.092,"y":-18.1},{"i":22,"x":1.209,"y":-19.2},{"i":22,"x":1.287,"y":-20},
{"i":23,"x":0,"y":0},{"i":23,"x":0.04,"y":-0.25},{"i":23,"x":0.081,"y":-0.9},{"i":23,"x":0.121,"y":-1.7},{"i":23,"x":0.162,"y":-2.7},{"i":23,"x":0.202,"y":-3.9},{"i":23,"x":0.242,"y":-5.3},{"i":23,"x":0.283,"y":-7},{"i":23,"x":0.323,"y":-8.6},{"i":23,"x":0.364,"y":-9.9},{"i":23,"x":0.404,"y":-10.8},{"i":23,"x":0.485,"y":-12.1},{"i":23,"x":0.566,"y":-12.9},{"i":23,"x":0.646,"y":-13.7},{"i":23,"x":0.808,"y":-15},{"i":23,"x":0.97,"y":-16.6},{"i":23,"x":1.131,"y":-18.1},{"i":23,"x":1.252,"y":-19.2},{"i":23,"x":1.333,"y":-20},
{"i":24,"x":0,"y":0},{"i":24,"x":0.042,"y":-0.25},{"i":24,"x":0.084,"y":-0.9},{"i":24,"x":0.126,"y":-1.7},{"i":24,"x":0.168,"y":-2.7},{"i":24,"x":0.211,"y":-3.9},{"i":24,"x":0.253,"y":-5.3},{"i":24,"x":0.295,"y":-7},{"i":24,"x":0.337,"y":-8.6},{"i":24,"x":0.379,"y":-9.9},{"i":24,"x":0.421,"y":-10.8},{"i":24,"x":0.505,"y":-12.1},{"i":24,"x":0.589,"y":-12.9},{"i":24,"x":0.674,"y":-13.7},{"i":24,"x":0.842,"y":-15},{"i":24,"x":1.01,"y":-16.6},{"i":24,"x":1.179,"y":-18.1},{"i":24,"x":1.305,"y":-19.2},{"i":24,"x":1.389,"y":-20},
{"i":25,"x":0,"y":0},{"i":25,"x":0.044,"y":-0.25},{"i":25,"x":0.088,"y":-0.9},{"i":25,"x":0.132,"y":-1.7},{"i":25,"x":0.176,"y":-2.7},{"i":25,"x":0.22,"y":-3.9},{"i":25,"x":0.263,"y":-5.3},{"i":25,"x":0.307,"y":-7},{"i":25,"x":0.351,"y":-8.6},{"i":25,"x":0.395,"y":-9.9},{"i":25,"x":0.439,"y":-10.8},{"i":25,"x":0.527,"y":-12.1},{"i":25,"x":0.615,"y":-12.9},{"i":25,"x":0.702,"y":-13.7},{"i":25,"x":0.878,"y":-15},{"i":25,"x":1.054,"y":-16.6},{"i":25,"x":1.229,"y":-18.1},{"i":25,"x":1.361,"y":-19.2},{"i":25,"x":1.449,"y":-20},
{"i":26,"x":0,"y":0},{"i":26,"x":0.046,"y":-0.25},{"i":26,"x":0.091,"y":-0.9},{"i":26,"x":0.137,"y":-1.7},{"i":26,"x":0.182,"y":-2.7},{"i":26,"x":0.228,"y":-3.9},{"i":26,"x":0.273,"y":-5.3},{"i":26,"x":0.319,"y":-7},{"i":26,"x":0.364,"y":-8.6},{"i":26,"x":0.41,"y":-9.9},{"i":26,"x":0.455,"y":-10.8},{"i":26,"x":0.546,"y":-12.1},{"i":26,"x":0.637,"y":-12.9},{"i":26,"x":0.728,"y":-13.7},{"i":26,"x":0.91,"y":-15},{"i":26,"x":1.092,"y":-16.6},{"i":26,"x":1.274,"y":-18.1},{"i":26,"x":1.411,"y":-19.2},{"i":26,"x":1.502,"y":-20},
{"i":27,"x":0,"y":0},{"i":27,"x":0.047,"y":-0.25},{"i":27,"x":0.094,"y":-0.9},{"i":27,"x":0.141,"y":-1.7},{"i":27,"x":0.188,"y":-2.7},{"i":27,"x":0.235,"y":-3.9},{"i":27,"x":0.281,"y":-5.3},{"i":27,"x":0.328,"y":-7},{"i":27,"x":0.375,"y":-8.6},{"i":27,"x":0.422,"y":-9.9},{"i":27,"x":0.469,"y":-10.8},{"i":27,"x":0.563,"y":-12.1},{"i":27,"x":0.657,"y":-12.9},{"i":27,"x":0.75,"y":-13.7},{"i":27,"x":0.938,"y":-15},{"i":27,"x":1.126,"y":-16.6},{"i":27,"x":1.313,"y":-18.1},{"i":27,"x":1.454,"y":-19.2},{"i":27,"x":1.548,"y":-20},
{"i":28,"x":0,"y":0},{"i":28,"x":0.048,"y":-0.25},{"i":28,"x":0.096,"y":-0.9},{"i":28,"x":0.144,"y":-1.7},{"i":28,"x":0.192,"y":-2.7},{"i":28,"x":0.24,"y":-3.9},{"i":28,"x":0.288,"y":-5.3},{"i":28,"x":0.336,"y":-7},{"i":28,"x":0.384,"y":-8.6},{"i":28,"x":0.432,"y":-9.9},{"i":28,"x":0.48,"y":-10.8},{"i":28,"x":0.576,"y":-12.1},{"i":28,"x":0.672,"y":-12.9},{"i":28,"x":0.768,"y":-13.7},{"i":28,"x":0.96,"y":-15},{"i":28,"x":1.152,"y":-16.6},{"i":28,"x":1.344,"y":-18.1},{"i":28,"x":1.488,"y":-19.2},{"i":28,"x":1.584,"y":-20},
{"i":29,"x":0,"y":0},{"i":29,"x":0.049,"y":-0.25},{"i":29,"x":0.098,"y":-0.9},{"i":29,"x":0.147,"y":-1.7},{"i":29,"x":0.196,"y":-2.7},{"i":29,"x":0.245,"y":-3.9},{"i":29,"x":0.293,"y":-5.3},{"i":29,"x":0.342,"y":-7},{"i":29,"x":0.391,"y":-8.6},{"i":29,"x":0.44,"y":-9.9},{"i":29,"x":0.489,"y":-10.8},{"i":29,"x":0.587,"y":-12.1},{"i":29,"x":0.685,"y":-12.9},{"i":29,"x":0.782,"y":-13.7},{"i":29,"x":0.978,"y":-15},{"i":29,"x":1.174,"y":-16.6},{"i":29,"x":1.369,"y":-18.1},{"i":29,"x":1.516,"y":-19.2},{"i":29,"x":1.614,"y":-20},
{"i":30,"x":0,"y":0},{"i":30,"x":0.05,"y":-0.25},{"i":30,"x":0.099,"y":-0.9},{"i":30,"x":0.149,"y":-1.7},{"i":30,"x":0.198,"y":-2.7},{"i":30,"x":0.248,"y":-3.9},{"i":30,"x":0.298,"y":-5.3},{"i":30,"x":0.347,"y":-7},{"i":30,"x":0.397,"y":-8.6},{"i":30,"x":0.446,"y":-9.9},{"i":30,"x":0.496,"y":-10.8},{"i":30,"x":0.595,"y":-12.1},{"i":30,"x":0.694,"y":-12.9},{"i":30,"x":0.794,"y":-13.7},{"i":30,"x":0.992,"y":-15},{"i":30,"x":1.19,"y":-16.6},{"i":30,"x":1.389,"y":-18.1},{"i":30,"x":1.538,"y":-19.2},{"i":30,"x":1.637,"y":-20}
]
},
"concat": [
{
 "width": 237, "height": 174,
 "title": "Ramp Family",
 "resolve": {"axis": {"x": "independent", "y": "independent"}},
 "layer": [
  {"data": {"name": "ramp"}, "mark": {"type": "line"},
   "encoding": {
    "x": {"field": "x", "type": "quantitative", "scale": {"domain": [40, 60], "nice": false, "zero": false}, "axis": {"values": [40,45,50,55,60], "title": "Time [s]", "titleY": 32, "titleBaseline": "middle", "labelExpr": "'' + datum.value"}},
    "y": {"field": "y", "type": "quantitative", "scale": {"domain": [0, 2.5], "nice": false}, "axis": {"values": [0,0.5,1,1.5,2,2.5], "title": "Error [m]", "titleX": -49, "titleBaseline": "middle", "labelExpr": "'' + datum.value"}},
    "detail": {"field": "i", "type": "nominal"},
    "order": {"value": null}}},
  {"data": {"values": [{"x": 40, "y": 0}]}, "mark": {"type": "point", "opacity": 0},
   "encoding": {
    "x": {"field": "x", "type": "quantitative", "scale": {"domain": [40, 60], "nice": false, "zero": false}, "axis": {"orient": "top", "values": [40,45,50,55,60], "labels": false, "title": null}},
    "y": {"field": "y", "type": "quantitative", "scale": {"domain": [0, 2.5], "nice": false}, "axis": {"orient": "right", "values": [0,0.5,1,1.5,2,2.5], "labels": false, "title": null}}}}
 ]
},
{
 "width": 237, "height": 174,
 "title": "Const Accel Family",
 "resolve": {"axis": {"x": "independent", "y": "independent"}},
 "layer": [
  {"data": {"name": "accel"}, "mark": {"type": "line"},
   "encoding": {
    "x": {"field": "x", "type": "quantitative", "scale": {"domain": [40, 60], "nice": false, "zero": false}, "axis": {"values": [40,45,50,55,60], "title": "Time [s]", "titleY": 32, "titleBaseline": "middle", "labelExpr": "'' + datum.value"}},
    "y": {"field": "y", "type": "quantitative", "scale": {"domain": [0, 2.5], "nice": false}, "axis": {"values": [0,0.5,1,1.5,2,2.5], "title": "Error [m]", "titleX": -48, "titleBaseline": "middle", "labelExpr": "'' + datum.value"}},
    "detail": {"field": "i", "type": "nominal"},
    "order": {"value": null}}},
  {"data": {"values": [{"x": 40, "y": 0}]}, "mark": {"type": "point", "opacity": 0},
   "encoding": {
    "x": {"field": "x", "type": "quantitative", "scale": {"domain": [40, 60], "nice": false, "zero": false}, "axis": {"orient": "top", "values": [40,45,50,55,60], "labels": false, "title": null}},
    "y": {"field": "y", "type": "quantitative", "scale": {"domain": [0, 2.5], "nice": false}, "axis": {"orient": "right", "values": [0,0.5,1,1.5,2,2.5], "labels": false, "title": null}}}}
 ]
},
{
 "width": 237, "height": 172,
 "title": "Ramp Family PSD",
 "resolve": {"axis": {"x": "independent", "y": "independent"}},
 "layer": [
  {"data": {"name": "rpsd"}, "mark": {"type": "line"},
   "encoding": {
    "x": {"field": "x", "type": "quantitative", "scale": {"domain": [0, 3], "nice": false}, "axis": {"values": [0,1,2,3], "title": "Frequency [Hz]", "titleY": 36, "titleBaseline": "middle", "labelPadding": 11, "labelExpr": "'' + datum.value", "grid": true, "gridColor": "#000", "gridDash": [3,3], "gridOpacity": 1, "gridWidth": 1}},
    "y": {"field": "y", "type": "quantitative", "scale": {"domain": [-20, 0], "nice": false}, "axis": {"values": [-20,-15,-10,-5,0], "title": "Power", "titleX": -47, "titleBaseline": "middle", "labelExpr": "'' + datum.value", "grid": true, "gridColor": "#000", "gridDash": [3,3], "gridOpacity": 1, "gridWidth": 1}},
    "detail": {"field": "i", "type": "nominal"},
    "order": {"value": null}}},
  {"data": {"values": [{"x": 0, "y": 0}]}, "mark": {"type": "point", "opacity": 0},
   "encoding": {
    "x": {"field": "x", "type": "quantitative", "scale": {"domain": [0, 3], "nice": false}, "axis": {"orient": "top", "values": [0,1,2,3], "labels": false, "title": null}},
    "y": {"field": "y", "type": "quantitative", "scale": {"domain": [-20, 0], "nice": false}, "axis": {"orient": "right", "values": [-20,-15,-10,-5,0], "labels": false, "title": null}}}}
 ]
},
{
 "width": 237, "height": 172,
 "title": "Const Accel Family PSD",
 "resolve": {"axis": {"x": "independent", "y": "independent"}},
 "layer": [
  {"data": {"name": "apsd"}, "mark": {"type": "line"},
   "encoding": {
    "x": {"field": "x", "type": "quantitative", "scale": {"domain": [0, 3], "nice": false}, "axis": {"values": [0,1,2,3], "title": "Frequency [Hz]", "titleY": 36, "titleBaseline": "middle", "labelPadding": 11, "labelExpr": "'' + datum.value", "grid": true, "gridColor": "#000", "gridDash": [3,3], "gridOpacity": 1, "gridWidth": 1}},
    "y": {"field": "y", "type": "quantitative", "scale": {"domain": [-20, 0], "nice": false}, "axis": {"values": [-20,-15,-10,-5,0], "title": "Power", "titleX": -47, "titleBaseline": "middle", "labelExpr": "'' + datum.value", "grid": true, "gridColor": "#000", "gridDash": [3,3], "gridOpacity": 1, "gridWidth": 1}},
    "detail": {"field": "i", "type": "nominal"},
    "order": {"value": null}}},
  {"data": {"values": [{"x": 0, "y": 0}]}, "mark": {"type": "point", "opacity": 0},
   "encoding": {
    "x": {"field": "x", "type": "quantitative", "scale": {"domain": [0, 3], "nice": false}, "axis": {"orient": "top", "values": [0,1,2,3], "labels": false, "title": null}},
    "y": {"field": "y", "type": "quantitative", "scale": {"domain": [-20, 0], "nice": false}, "axis": {"orient": "right", "values": [-20,-15,-10,-5,0], "labels": false, "title": null}}}}
 ]
}
]
}
